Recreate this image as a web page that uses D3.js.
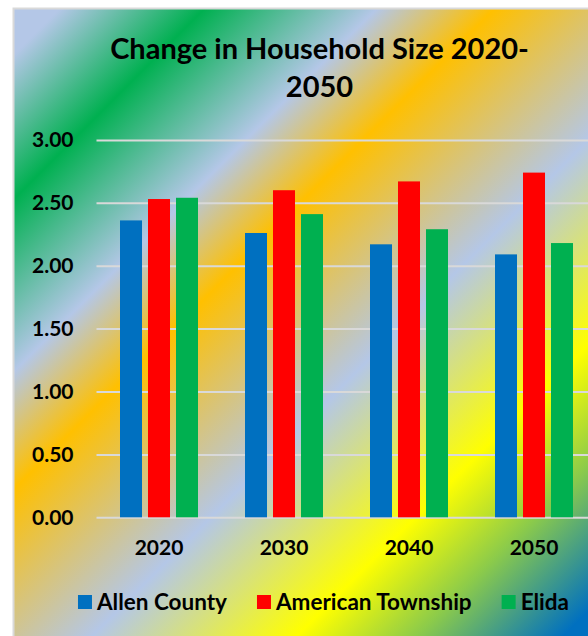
<!DOCTYPE html>
<html><head><meta charset="utf-8">
<script src="https://cdn.jsdelivr.net/npm/d3@7"></script>
<style>html,body{margin:0;padding:0;background:#fff;overflow:hidden}</style>
</head><body>
<svg id="chart" width="588" height="636"></svg>
<script>
// ---- data ----
const years = ["2020", "2030", "2040", "2050"];
const seriesNames = ["Allen County", "American Township", "Elida"];
const allenCounty = [2.36, 2.26, 2.17, 2.09];
const americanTownship = [2.53, 2.60, 2.67, 2.74];
const elida = [2.54, 2.41, 2.29, 2.18];
const yTicks = [0, 0.5, 1, 1.5, 2, 2.5, 3];
const titleLines = ["Change in Household Size 2020-", "2050"];

const seriesValues = [allenCounty, americanTownship, elida];
const colors = ["#0070C0", "#FF0000", "#00B050"];
const FONT = "Lato, 'Open Sans', sans-serif";

const svg = d3.select("#chart");

// background gradient
const defs = svg.append("defs");
const grad = defs.append("linearGradient").attr("id", "bg")
  .attr("gradientUnits", "userSpaceOnUse")
  .attr("x1", 0).attr("y1", 0).attr("x2", 612).attr("y2", 612);
[[0, "#B4C7E7"], [0.056, "#B4C7E7"], [0.174, "#00B050"], [0.315, "#B4C7E7"],
 [0.411, "#FFC000"], [0.595, "#B4C7E7"], [0.762, "#FFFF00"], [0.86, "#8CCB4A"],
 [0.98, "#0070C0"], [1, "#0070C0"]]
  .forEach(([o, c]) => grad.append("stop").attr("offset", o).attr("stop-color", c));

svg.append("rect").attr("x", 13.5).attr("y", 8.5).attr("width", 640).attr("height", 660)
  .attr("fill", "url(#bg)").attr("stroke", "#D9D9D9").attr("stroke-width", 2);

// title
const title = svg.append("text").attr("text-anchor", "middle")
  .attr("font-family", FONT).attr("font-weight", "bold").attr("font-size", 29).attr("fill", "#000");
titleLines.forEach((t, i) => title.append("tspan").attr("x", 319.5).attr("y", 59 + i * 38).text(t));

// scales
const plotLeft = 96.5, plotRight = 596.5, plotTop = 139.9, plotBottom = 517.3;
const y = d3.scaleLinear().domain([0, 3]).range([plotBottom, plotTop]);
const x0 = d3.scaleBand().domain(years).range([plotLeft, plotRight]).padding(0);
const x1 = d3.scaleBand().domain(seriesNames).range([23.5, 101.5]).paddingInner(0.214).paddingOuter(0);

// y axis with gridlines
const yAxis = svg.append("g").attr("transform", `translate(${plotLeft},0)`)
  .call(d3.axisLeft(y).tickValues(yTicks).tickFormat(d3.format(".2f"))
    .tickSize(-(plotRight - plotLeft)).tickPadding(23));
yAxis.select(".domain").remove();
yAxis.selectAll(".tick line").attr("stroke", "#D9D9D9").attr("stroke-width", 2);
yAxis.selectAll(".tick text").attr("font-family", FONT).attr("font-weight", "bold")
  .attr("font-size", 21).attr("fill", "#000");

// bars
const groups = svg.append("g").selectAll("g").data(years).join("g")
  .attr("transform", d => `translate(${x0(d)},0)`);
groups.selectAll("rect")
  .data((d, i) => seriesNames.map((s, j) => ({ s, v: seriesValues[j][i], c: colors[j] })))
  .join("rect")
  .attr("x", d => x1(d.s)).attr("width", x1.bandwidth())
  .attr("y", d => y(d.v)).attr("height", d => y(0) - y(d.v))
  .attr("fill", d => d.c);

// x axis
const xAxis = svg.append("g").attr("transform", `translate(0,${plotBottom})`)
  .call(d3.axisBottom(x0).tickSize(0).tickPadding(23));
xAxis.select(".domain").remove();
xAxis.selectAll(".tick text").attr("font-family", FONT).attr("font-weight", "bold")
  .attr("font-size", 21).attr("fill", "#000");

// legend
const legend = svg.append("g");
const items = legend.selectAll("g").data(seriesNames).join("g");
items.append("rect").attr("width", 14).attr("height", 14).attr("y", 595)
  .attr("fill", (d, i) => colors[i]);
items.append("text").attr("x", 19).attr("y", 610).attr("font-family", FONT)
  .attr("font-weight", "bold").attr("font-size", 22.5).attr("fill", "#000").text(d => d);
let cx = 0; const offs = [];
items.each(function () {
  offs.push(cx);
  cx += 19 + this.querySelector("text").getComputedTextLength() + 30;
});
const total = cx - 30;
const startX = 323.5 - total / 2;
items.attr("transform", (d, i) => `translate(${startX + offs[i]},0)`);
</script>
</body></html>
